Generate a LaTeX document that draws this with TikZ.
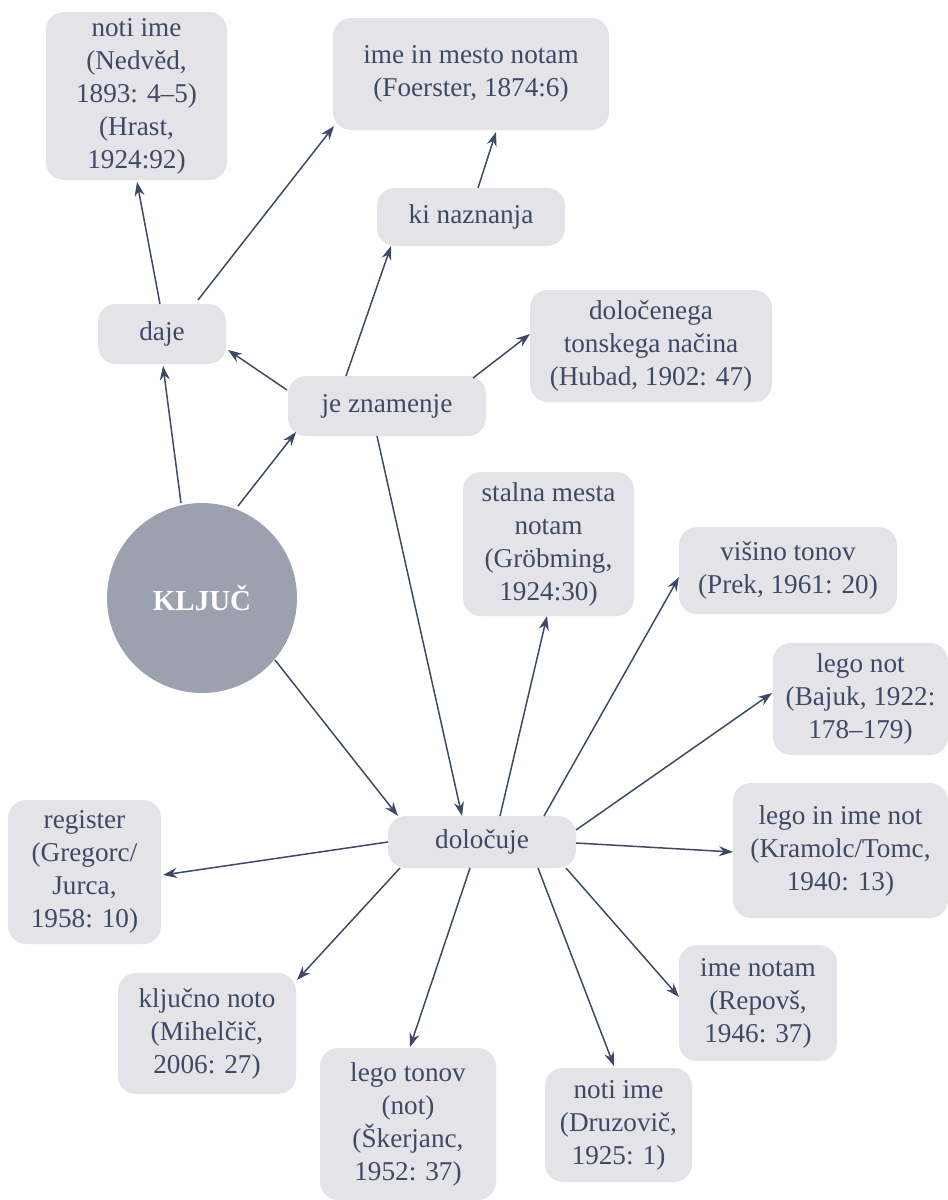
\documentclass[tikz,border=0pt]{standalone}
\usepackage{fontspec}
\setmainfont{Liberation Serif}
\usetikzlibrary{arrows.meta}
\definecolor{ink}{HTML}{3E4A65}
\definecolor{boxfill}{HTML}{E3E3E8}
\definecolor{hub}{HTML}{9CA1AF}
\tikzset{
  box/.style={rounded corners=9pt, fill=boxfill, text=ink, align=center,
    inner sep=0pt, font=\fontsize{13.6}{16.5}\selectfont},
  sz/.style 2 args={minimum width=#1*0.5pt, minimum height=#2*0.5pt},
  link/.style={draw=ink, line width=0.75pt, -{Stealth[length=7pt,width=5pt]}}
}
\begin{document}
\begin{tikzpicture}[x=0.5pt,y=-0.5pt]
\useasboundingbox (0,0) rectangle (948,1200);

% central circle
\node[circle, fill=hub, text=white, minimum size=95pt, inner sep=0pt,
  font=\fontsize{14.5}{17}\selectfont\bfseries] (klj) at (202,598) {KLJUČ};

% upper part
\node[box, sz={181}{168}] (ned) at (136.5,96) {noti ime\\(Nedvěd,\\1893: 4–5)\\(Hrast,\\1924:92)};
\node[box, sz={276}{112}] (foe) at (471,74) {ime in mesto notam\\(Foerster, 1874:6)};
\node[box, sz={188}{58}] (kin) at (471,217) {ki naznanja};
\node[box, sz={128}{60}] (daje) at (162,334) {daje};
\node[box, sz={242}{112}] (dol) at (651,346) {določenega\\tonskega načina\\(Hubad, 1902: 47)};
\node[box, sz={198}{60}] (jez) at (387,406) {je znamenje};

% lower part
\node[box, sz={171}{144}] (sta) at (548.5,544) {stalna mesta\\notam\\(Gröbming,\\1924:30)};
\node[box, sz={218}{87}] (vis) at (788,570.5) {višino tonov\\(Prek, 1961: 20)};
\node[box, sz={175}{112}] (leg) at (860.5,699) {lego not\\(Bajuk, 1922:\\178–179)};
\node[box, sz={215}{135}] (lim) at (840.5,850.5) {lego in ime not\\(Kramolc/Tomc,\\1940: 13)};
\node[box, sz={188}{52}] (dlc) at (482,842) {določuje};
\node[box, sz={153}{144}] (reg) at (84.5,872) {register\\(Gregorc/\\Jurca,\\1958: 10)};
\node[box, sz={158}{116}] (imn) at (758,1003) {ime notam\\(Repovš,\\1946: 37)};
\node[box, sz={178}{121}] (kno) at (207,1033.5) {ključno noto\\(Mihelčič,\\2006: 27)};
\node[box, sz={176}{152}] (lto) at (408,1124) {lego tonov\\(not)\\(Škerjanc,\\1952: 37)};
\node[box, sz={147}{114}] (dru) at (618.5,1125) {noti ime\\(Druzovič,\\1925: 1)};

% connectors
\draw[link] ([shift={(-21,-95)}]klj.center) -- ([shift={(1,32)}]daje.center);
\draw[link] ([shift={(-2,-30)}]daje.center) -- ([shift={(0.5,86)}]ned.center);
\draw[link] ([shift={(36,-34)}]daje.center) -- ([shift={(-137,52)}]foe.center);
\draw[link] ([shift={(36,-92)}]klj.center) -- ([shift={(-91,26)}]jez.center);
\draw[link] ([shift={(-100,-16)}]jez.center) -- ([shift={(66,16)}]daje.center);
\draw[link] ([shift={(-41,-30)}]jez.center) -- ([shift={(-80,29)}]kin.center);
\draw[link] ([shift={(7,-29)}]kin.center) -- ([shift={(25,58)}]foe.center);
\draw[link] ([shift={(86,-28)}]jez.center) -- ([shift={(-121,-12)}]dol.center);
\draw[link] ([shift={(-10,30)}]jez.center) -- ([shift={(-20,-26)}]dlc.center);
\draw[link] ([shift={(73,62)}]klj.center) -- ([shift={(-84,-26)}]dlc.center);
\draw[link] ([shift={(18,-26)}]dlc.center) -- ([shift={(-1.5,72)}]sta.center);
\draw[link] ([shift={(62,-26)}]dlc.center) -- ([shift={(-109,6.5)}]vis.center);
\draw[link] ([shift={(94,-12)}]dlc.center) -- ([shift={(-88.5,-6)}]leg.center);
\draw[link] ([shift={(94,1)}]dlc.center) -- ([shift={(-107.5,1.5)}]lim.center);
\draw[link] ([shift={(-94,0)}]dlc.center) -- ([shift={(78.5,3)}]reg.center);
\draw[link] ([shift={(-82,26)}]dlc.center) -- ([shift={(90,-53.5)}]kno.center);
\draw[link] ([shift={(-12,26)}]dlc.center) -- ([shift={(2,-77)}]lto.center);
\draw[link] ([shift={(56,26)}]dlc.center) -- ([shift={(-4.5,-59)}]dru.center);
\draw[link] ([shift={(84,26)}]dlc.center) -- ([shift={(-79,-6)}]imn.center);
\end{tikzpicture}
\end{document}
